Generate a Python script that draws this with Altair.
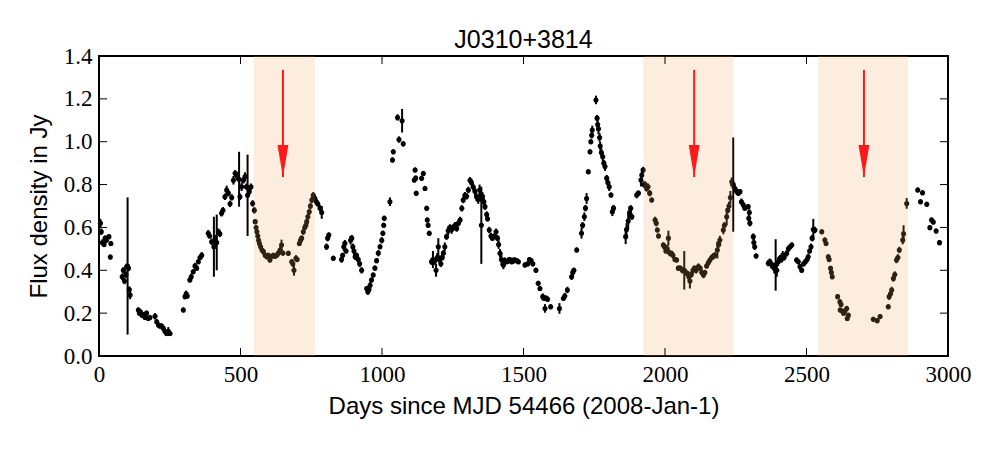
import altair as alt
import pandas as pd

# ---- light-curve data (days since MJD 54466, flux density in Jy, 1-sigma error) ----
days = [
    5, 8, 12, 18, 22, 26, 35, 42, 40,
    82, 86, 90, 95, 98, 101, 104, 107, 110,
    139, 143, 147, 152, 157, 163, 168, 174, 180, 198, 204, 210, 215, 221, 227, 233, 239, 245, 251,
    298, 304, 308, 312, 321, 326, 333, 339, 345, 351, 357, 363,
    386, 391, 398, 406, 411, 416, 422, 427, 433, 438, 445, 451, 457, 463, 469, 475, 481, 487, 495, 498, 504, 510, 516, 521, 525, 531, 537, 543, 549,
    552, 555, 558, 561, 564, 567, 571, 576, 581, 587, 593, 598, 604, 610, 616, 622, 628, 634, 640, 645, 650, 669, 681, 685, 689, 696, 700, 708, 712, 716, 722, 727, 731, 734, 738, 743, 747, 752, 757,
    763, 768, 773, 781, 787, 804, 808, 812, 828,
    857, 861, 865, 869, 873, 889, 893, 897, 901, 905, 910, 916, 921, 928,
    946, 950, 954, 958, 963, 969, 975, 981, 987, 993, 999, 1003, 1006, 1008, 1028, 1037, 1040, 1055, 1060, 1071, 1075,
    1114, 1117, 1119, 1121, 1140, 1146, 1152, 1158, 1160, 1163, 1167,
    1175, 1180, 1185, 1191, 1195, 1199, 1204, 1208, 1213, 1217, 1222, 1228, 1234, 1240, 1246, 1252, 1258, 1264, 1270, 1276,
    1282, 1287, 1293, 1299, 1305, 1311, 1316, 1322, 1328, 1334, 1340, 1345, 1349, 1351, 1355, 1360, 1364, 1370, 1373, 1379,
    1385, 1390, 1397, 1403, 1408, 1412, 1417, 1422, 1429,
    1434, 1440, 1446, 1452, 1458, 1464, 1470, 1476, 1482, 1505, 1515, 1521, 1527, 1533, 1544, 1552, 1558,
    1568, 1572, 1576, 1580, 1585, 1596, 1627, 1641, 1646, 1655, 1670, 1674, 1678, 1688,
    1705, 1709, 1715, 1719, 1723, 1729, 1735, 1738, 1741, 1743, 1756, 1760, 1762, 1765, 1769, 1771, 1775, 1780, 1784, 1788, 1794, 1798, 1803, 1809, 1814, 1818,
    1861, 1864, 1870, 1875, 1879, 1883, 1900, 1906, 1915, 1918,
    1923, 1926, 1930, 1935, 1940, 1946, 1953, 1965, 1969, 1973, 1977, 1994, 1998, 2003, 2008, 2012, 2017, 2023, 2028, 2035,
    2041, 2047, 2054, 2061, 2068, 2074, 2079, 2084, 2088, 2093, 2099, 2104, 2110, 2118, 2124, 2130, 2136, 2141, 2147, 2153,
    2159, 2165, 2170, 2176, 2185, 2190, 2194, 2206, 2210, 2218, 2222, 2226, 2231, 2236, 2239, 2241,
    2247, 2252, 2259, 2265, 2270, 2277, 2282, 2294, 2298, 2296, 2300, 2312, 2314, 2317, 2322,
    2365, 2370, 2375, 2380, 2386, 2391, 2395, 2400, 2406, 2411, 2416, 2421, 2430, 2436, 2442, 2448, 2465, 2471, 2477, 2483,
    2490, 2496, 2502, 2506, 2511, 2516, 2520, 2524, 2530,
    2554, 2565, 2569, 2577, 2580, 2585, 2588, 2591, 2610, 2618, 2622, 2619, 2626, 2631, 2636, 2642, 2644, 2648, 2736, 2750,
    2760, 2789, 2792, 2797, 2801, 2807, 2812, 2818, 2823, 2828, 2840, 2843, 2854,
    2893, 2903, 2910, 2925, 2936, 2942, 2948, 2958, 2970,
]

flux = [
    .62, .58, .53, .52, .55, .54, .557, .525, .462,
    .37, .40, .35, .38, .417, .42, .41, .31, .285,
    .215, .20, .205, .19, .19, .18, .20, .175, .18, .185, .16, .145, .14, .14, .13, .115, .105, .115, .105,
    .215, .277, .29, .28, .355, .37, .393, .42, .41, .44, .46, .47,
    .573, .56, .533, .51, .55, .53, .58, .57, .666, .68, .743, .775, .76, .71, .74, .82, .853, .84, .825, .743, .79, .82, .837, .79, .75, .767, .79, .712, .68,
    .627, .60, .58, .56, .54, .525, .51, .495, .487, .47, .463, .47, .448, .465, .47, .465, .47, .48, .495, .518, .48, .479, .44, .43, .40, .456, .45, .525, .54, .55, .58, .60, .61, .627, .65, .673, .70, .728, .75,
    .735, .72, .71, .69, .67, .51, .55, .565, .456,
    .45, .47, .51, .526, .49, .54, .55, .51, .49, .463, .47, .45, .43, .40,
    .315, .30, .31, .33, .355, .378, .41, .445, .48, .51, .54, .573, .61, .643, .72, .915, .953, 1.113, 1.01, 1.098, .99,
    .821, .868, .83, .759, .829, .852, .782, .689, .635, .61, .573,
    .44, .45, .44, .40, .46, .51, .45, .43, .46, .48, .51, .557, .585, .60, .59, .60, .61, .595, .62, .635,
    .689, .728, .75, .745, .775, .82, .81, .79, .77, .743, .73, .775, .75, .61, .745, .72, .697, .66, .64, .588,
    .56, .55, .56, .58, .55, .52, .479, .45, .425,
    .445, .44, .445, .45, .44, .445, .448, .445, .44, .425, .43, .45, .445, .43, .40, .339, .315,
    .277, .27, .222, .27, .265, .23, .222, .269, .28, .308, .37, .39, .40, .495,
    .573, .61, .65, .69, .735, .86, .953, 1.0, 1.03, 1.055, 1.195, 1.11, 1.08, 1.06, 1.02, .98, .95, .93, .90, .884, .83, .81, .79, .751, .673, .69,
    .557, .59, .63, .67, .689, .65, .751, .76, .821, .845,
    .868, .80, .80, .782, .79, .76, .728, .635, .62, .588, .56, .518, .51, .49, .50, .55, .48, .479, .47, .45,
    .448, .41, .41, .40, .40, .39, .386, .37, .35, .38, .40, .41, .40, .417, .41, .39, .378, .39, .42, .435,
    .448, .46, .465, .47, .495, .52, .541, .588, .61, .65, .68, .70, .74, .813, .80, .80,
    .782, .77, .76, .767, .72, .705, .69, .697, .67, .643, .62, .557, .53, .51, .467,
    .433, .44, .43, .42, .41, .425, .40, .44, .456, .45, .47, .46, .479, .50, .51, .518, .448, .44, .417, .40,
    .43, .44, .45, .463, .49, .51, .55, .59, .588,
    .58, .541, .525, .463, .45, .409, .39, .37, .277, .253, .24, .215, .21, .20, .21, .222, .175, .19, .171, .165,
    .184, .23, .277, .29, .308, .362, .38, .448, .46, .495, .541, .57, .712,
    .775, .72, .762, .708, .599, .635, .625, .583, .529,
]

err = [
    .02, .015, .015, .012, .012, .012, .012, .012, .012,
    .015, .015, .015, .015, .015, .32, .015, .015, .02,
    .012, .012, .012, .012, .015, .012, .012, .012, .012, .015, .012, .012, .012, .012, .012, .015, .012, .02, .012,
    .012, .012, .015, .012, .012, .015, .012, .015, .012, .012, .012, .015,
    .015, .012, .015, .14, .015, .13, .015, .015, .015, .015, .015, .02, .015, .015, .015, .02, .015, .02, .128, .015, .02, .015, .02, .015, .19, .015, .015, .015, .015,
    .012, .012, .012, .012, .012, .012, .012, .012, .012, .012, .012, .012, .012, .012, .012, .012, .012, .015, .015, .025, .012, .012, .012, .015, .025, .015, .012, .012, .015, .012, .015, .012, .015, .012, .015, .015, .015, .015, .015,
    .015, .012, .012, .015, .03, .015, .015, .012, .012,
    .015, .012, .02, .015, .012, .02, .015, .015, .02, .015, .012, .015, .015, .015,
    .012, .015, .012, .015, .012, .012, .012, .012, .015, .012, .015, .012, .012, .012, .02, .012, .012, .015, .015, .055, .012,
    .012, .012, .012, .012, .012, .012, .012, .012, .012, .012, .012,
    .015, .04, .015, .03, .02, .04, .02, .015, .015, .015, .02, .015, .02, .015, .02, .015, .015, .015, .015, .015,
    .015, .015, .015, .015, .015, .015, .015, .015, .02, .02, .02, .025, .03, .18, .02, .02, .015, .015, .012, .015,
    .015, .012, .012, .015, .015, .02, .02, .03, .02,
    .015, .012, .015, .012, .012, .015, .012, .012, .012, .012, .012, .012, .012, .012, .012, .012, .012,
    .015, .012, .02, .012, .012, .012, .025, .012, .015, .015, .015, .015, .012, .012,
    .025, .015, .02, .015, .025, .012, .012, .012, .015, .02, .02, .015, .03, .025, .02, .02, .02, .02, .015, .02, .015, .02, .02, .012, .02, .015,
    .035, .03, .04, .03, .015, .015, .015, .012, .03, .03,
    .015, .015, .015, .015, .015, .015, .012, .015, .015, .012, .012, .012, .015, .012, .02, .035, .015, .012, .015, .012,
    .012, .012, .012, .015, .09, .015, .012, .015, .035, .015, .015, .012, .015, .015, .012, .015, .015, .012, .012, .015,
    .012, .012, .015, .015, .04, .015, .02, .02, .015, .04, .015, .02, .03, .02, .02, .22,
    .015, .015, .012, .012, .015, .015, .012, .012, .015, .015, .015, .015, .02, .015, .012,
    .015, .015, .02, .015, .025, .12, .03, .02, .015, .015, .02, .015, .015, .015, .012, .012, .012, .012, .012, .012,
    .012, .012, .012, .015, .012, .015, .015, .05, .015,
    .012, .012, .012, .012, .012, .012, .012, .012, .012, .012, .012, .012, .012, .012, .012, .012, .012, .012, .012, .012,
    .012, .012, .015, .012, .015, .015, .015, .015, .015, .015, .02, .04, .025,
    .012, .012, .012, .012, .012, .012, .012, .012, .012,
]

# ---- highlighted intervals and arrows ----
shade_start = [547, 1924, 2541]
shade_end = [763, 2241, 2859]
arrow_day = [650, 2103, 2703]
arrow_top = [1.335, 1.335, 1.335]
arrow_tip = [0.835, 0.835, 0.835]

# ---- tick values ----
x_ticks = [0, 500, 1000, 1500, 2000, 2500, 3000]
y_ticks = [0.0, 0.2, 0.4, 0.6, 0.8, 1.0, 1.2, 1.4]

W, H = 849, 300

df = pd.DataFrame({"day": days, "flux": flux, "err": err})
df["lo"] = df["flux"] - df["err"]
df["hi"] = df["flux"] + df["err"]

shade_df = pd.DataFrame({"start": shade_start, "end": shade_end})
arrow_df = pd.DataFrame({"day": arrow_day, "top": arrow_top, "tip": arrow_tip})
xt_df = pd.DataFrame({"v": x_ticks})
yt_df = pd.DataFrame({"v": y_ticks})

xs = alt.Scale(domain=[0, 3000], nice=False, zero=False)
ys = alt.Scale(domain=[0, 1.4], nice=False, zero=False)

x_axis = alt.Axis(
    values=x_ticks, format="d", labelFont="Liberation Serif", labelFontSize=23,
    labelPadding=7, labelColor="black", labelFlush=False, labelOverlap=False,
    grid=False, domain=False, ticks=False,
    title="Days since MJD 54466 (2008-Jan-1)", titleFont="Liberation Sans",
    titleFontSize=24, titleFontWeight="normal", titleColor="black", titlePadding=8,
)
y_axis = alt.Axis(
    values=y_ticks, format=".1f", labelFont="Liberation Serif", labelFontSize=23,
    labelPadding=7, labelColor="black", labelFlush=False, labelOverlap=False,
    grid=False, domain=False, ticks=False,
    title="Flux density in Jy", titleFont="Liberation Sans",
    titleFontSize=24, titleFontWeight="normal", titleColor="black", titlePadding=12,
)

base = alt.Chart(df)
errbars = base.mark_rule(color="black", strokeWidth=2).encode(
    x=alt.X("day:Q", scale=xs, axis=x_axis),
    y=alt.Y("lo:Q", scale=ys, axis=y_axis),
    y2="hi:Q",
)
points = base.mark_circle(color="black", size=26, opacity=1).encode(
    x=alt.X("day:Q", scale=xs),
    y=alt.Y("flux:Q", scale=ys),
)

shades = alt.Chart(shade_df).mark_rect(color="#f4a460", opacity=0.2).encode(
    x=alt.X("start:Q", scale=xs),
    x2="end:Q",
    y=alt.value(0),
    y2=alt.value(H),
)

tick_len = 8
xt_bottom = alt.Chart(xt_df).mark_rule(color="black", strokeWidth=1).encode(
    x=alt.X("v:Q", scale=xs), y=alt.value(H), y2=alt.value(H - tick_len))
xt_top = alt.Chart(xt_df).mark_rule(color="black", strokeWidth=1).encode(
    x=alt.X("v:Q", scale=xs), y=alt.value(0), y2=alt.value(tick_len))
yt_left = alt.Chart(yt_df).mark_rule(color="black", strokeWidth=1).encode(
    y=alt.Y("v:Q", scale=ys), x=alt.value(0), x2=alt.value(tick_len))
yt_right = alt.Chart(yt_df).mark_rule(color="black", strokeWidth=1).encode(
    y=alt.Y("v:Q", scale=ys), x=alt.value(W - tick_len), x2=alt.value(W))

shafts = alt.Chart(arrow_df).mark_rule(color="#ff1a1a", strokeWidth=2).encode(
    x=alt.X("day:Q", scale=xs),
    y=alt.Y("top:Q", scale=ys),
    y2="tip:Q",
)
heads = alt.Chart(arrow_df).mark_point(
    shape="M-0.34,-1L0.34,-1L0,1Z", filled=True, color="#ff1a1a",
    size=1024, opacity=1, strokeWidth=0, yOffset=-16,
).encode(
    x=alt.X("day:Q", scale=xs),
    y=alt.Y("tip:Q", scale=ys),
)

chart = alt.layer(
    errbars, points, shades, xt_bottom, xt_top, yt_left, yt_right, shafts, heads
).properties(
    width=W, height=H,
    background="white",
    title=alt.TitleParams("J0310+3814", font="Liberation Sans", fontSize=25,
                          fontWeight="normal", color="black", offset=-8),
    autosize=alt.AutoSizeParams(type="none"),
    padding={"left": 99, "top": 56, "right": 52, "bottom": 94},
).configure_view(
    stroke="black", strokeWidth=2
).configure_axis(
    grid=False, domain=False, ticks=False
)

chart.save("out.html", embed_options={"renderer": "svg", "actions": False})
